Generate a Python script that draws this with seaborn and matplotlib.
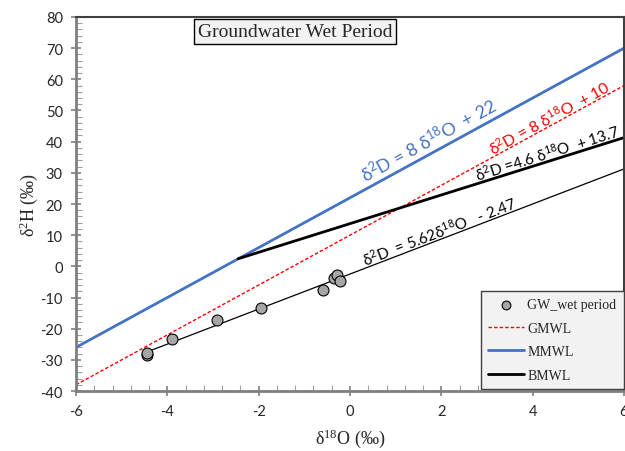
import numpy as np
import pandas as pd
import matplotlib
matplotlib.use("Agg")
import matplotlib.pyplot as plt
import seaborn as sns
from matplotlib.ticker import MultipleLocator

# ---- data ----
gw_d18o = [-4.45, -4.45, -3.89, -2.91, -1.94, -0.60, -0.34, -0.29, -0.22]
gw_d2h = [-28.3, -27.8, -23.3, -17.2, -13.3, -7.6, -3.8, -2.8, -4.7]

gmwl_x = [-6, 6]
gmwl_slope, gmwl_int = 8, 10
mmwl_x = [-6, 6]
mmwl_slope, mmwl_int = 8, 22
bmwl_x = [-2.45, 6]
bmwl_slope, bmwl_int = 4.6, 13.7
gw_x = [-4.5, 6]
gw_slope, gw_int = 5.62, -2.47

x_ticks = [-6, -4, -2, 0, 2, 4, 6]
y_ticks = [-40, -30, -20, -10, 0, 10, 20, 30, 40, 50, 60, 70, 80]

def line_df(xs, m, b):
    xs = np.array(xs, dtype=float)
    return pd.DataFrame({"x": xs, "y": m * xs + b})

sns.set_theme(style="white")
serif = ["Liberation Serif", "DejaVu Serif"]
sans = ["Lato", "DejaVu Sans"]
plt.rcParams["font.family"] = sans
plt.rcParams["mathtext.default"] = "regular"

fig = plt.figure(figsize=(6.25, 4.52), dpi=100)
ax = fig.add_axes([0.1216, 0.1327, 0.8768, 0.8275])

gray = "#7f7f7f"
sns.lineplot(data=line_df(gmwl_x, gmwl_slope, gmwl_int), x="x", y="y", ax=ax,
             color="#ff0000", linestyle=(0, (2.5, 1.5)), linewidth=1.0, label="GMWL")
sns.lineplot(data=line_df(mmwl_x, mmwl_slope, mmwl_int), x="x", y="y", ax=ax,
             color="#4472c4", linewidth=2.0, label="MMWL")
sns.lineplot(data=line_df(bmwl_x, bmwl_slope, bmwl_int), x="x", y="y", ax=ax,
             color="black", linewidth=2.0, label="BMWL")
sns.lineplot(data=line_df(gw_x, gw_slope, gw_int), x="x", y="y", ax=ax,
             color="black", linewidth=0.9, legend=False)
sns.scatterplot(x=gw_d18o, y=gw_d2h, ax=ax, color="#a6a6a6", edgecolor="black",
                linewidth=0.8, s=62, zorder=5, label="GW_wet period")

ax.set_xlim(-6, 6)
ax.set_ylim(-40, 80)
ax.set_xticks(x_ticks)
ax.set_yticks(y_ticks)
ax.set_xticklabels([str(v) for v in x_ticks])
ax.set_yticklabels([str(v) for v in y_ticks])
ax.xaxis.set_minor_locator(MultipleLocator(0.4))
ax.yaxis.set_minor_locator(MultipleLocator(2))
ax.tick_params(axis="both", which="major", direction="inout", length=7, width=1.2,
               color=gray, labelsize=10.5, labelcolor="#262626", pad=6,
               bottom=True, left=True)
ax.tick_params(axis="both", which="minor", direction="in", length=4, width=0.8,
               color="#a0a0a0", bottom=True, left=True)
for s in ["left", "bottom"]:
    ax.spines[s].set_color(gray)
    ax.spines[s].set_linewidth(2)
for s in ["top", "right"]:
    ax.spines[s].set_color("#404040")
    ax.spines[s].set_linewidth(1.5)

ax.set_xlabel("δ$^{18}$O (‰)", family=serif, fontsize=13, color="#262626", labelpad=6)
ax.set_ylabel("δ$^{2}$H (‰)", family=serif, fontsize=13, color="#262626", labelpad=0)

# annotations along lines
kw = dict(ha="center", va="center", rotation_mode="anchor")
ax.text(1.73, 40.6, "δ$^{2}$D = 8 δ$^{18}$O  + 22", color="#4472c4", fontsize=13, rotation=28.7, **kw)
ax.text(4.38, 48.0, "δ$^{2}$D = 8 δ$^{18}$O  + 10", color="#ff0000", fontsize=11.5, rotation=28.7, **kw)
ax.text(4.31, 36.5, "δ$^{2}$D =4.6 δ$^{18}$O  + 13.7", color="black", fontsize=11, rotation=17.5, **kw)
ax.text(1.95, 11.2, "δ$^{2}$D  = 5.62δ$^{18}$O   - 2.47", color="black", fontsize=11, rotation=21.0, **kw)

# title box
ax.text(0.40, 0.961, "Groundwater Wet Period", transform=ax.transAxes, family=serif,
        fontsize=14, ha="center", va="center",
        bbox=dict(boxstyle="square,pad=0.2", facecolor="#f2f2f2", edgecolor="black", linewidth=1))

# legend ordering
h, l = ax.get_legend_handles_labels()
order = [l.index(n) for n in ["GW_wet period", "GMWL", "MMWL", "BMWL"]]
leg = ax.legend([h[i] for i in order], [l[i] for i in order], loc="lower right",
                bbox_to_anchor=(1.0, 0.005), borderaxespad=0.0, frameon=True, fancybox=False,
                facecolor="#f2f2f2", edgecolor="#404040", framealpha=1,
                prop={"family": serif, "size": 10}, borderpad=0.55,
                labelspacing=0.75, handlelength=2.6, handletextpad=0.2, markerscale=0.8)
leg.get_frame().set_linewidth(1.0)

fig.savefig("out.png", dpi=100)
